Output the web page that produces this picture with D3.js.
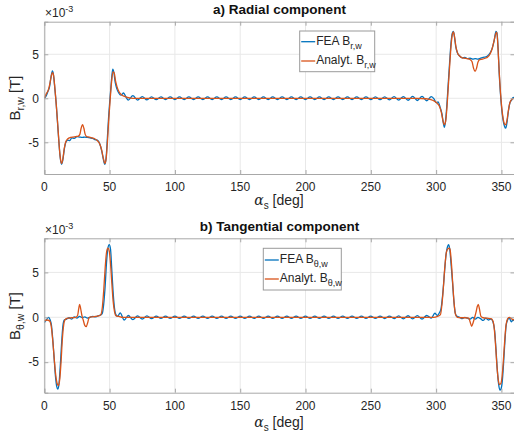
<!DOCTYPE html>
<html>
<head>
<meta charset="utf-8">
<script src="https://cdn.jsdelivr.net/npm/d3@7"></script>
<style>
  html, body { margin: 0; padding: 0; background: #fff; }
  svg { display: block; font-family: "Liberation Sans", Arial, sans-serif; }
</style>
</head>
<body>
<div id="chart"></div>
<script>
// ---- data (angle in deg, field in 1e-3 T) ----
const xTicks = [0, 50, 100, 150, 200, 250, 300, 350];
const yTicks = [-5, 0, 5];

const radialFEA = [
  [0, 0.0], [1.5, 0.3], [2.8, 0.8], [4.0, 1.3], [5.0, 2.3], [6.2, 3.1], [7.0, 2.7], [8.0, 1.2],
  [9.0, -0.4], [10.0, -2.5], [11.0, -4.6], [12.0, -6.5], [13.2, -7.5], [14.2, -7.0], [15.3, -5.8],
  [16.5, -5.0], [18.0, -4.75], [19.5, -4.8], [21.0, -4.5], [23.0, -4.55], [25.0, -4.35], [27.0, -4.4],
  [29.0, -4.45], [31.0, -4.4], [33.0, -4.45], [35.0, -4.5], [37.0, -4.55], [39.0, -4.7], [41.0, -4.8],
  [42.5, -5.2], [44.0, -6.0], [45.3, -7.0], [46.4, -7.5], [47.3, -6.8], [48.3, -4.5], [49.3, -2.0],
  [50.3, 0.0], [51.3, 1.8], [52.4, 3.3], [53.3, 2.9], [54.3, 1.8], [55.5, 1.1], [57.0, 0.6],
  [58.7, 0.35], [60.7, 0.6], [62.5, 0.15], [64.3, -0.2], [67.8, 0.3], [71.4, -0.2], [75.0, 0.2],
  [78.6, -0.18], [82.1, 0.16], [85.7, -0.16], [89.3, 0.15], [92.8, -0.15], [96.4, 0.15], [100.0, -0.15],
  [103.5, 0.15], [107.1, -0.15], [110.7, 0.15], [114.3, -0.15], [117.8, 0.15], [121.4, -0.15],
  [125.0, 0.15], [128.5, -0.15], [132.1, 0.15], [135.7, -0.15], [139.2, 0.15], [142.8, -0.15],
  [146.4, 0.15], [150.0, -0.15], [153.5, 0.15], [157.1, -0.15], [160.7, 0.15], [164.2, -0.15],
  [167.8, 0.15], [171.4, -0.15], [174.9, 0.15], [178.5, -0.15], [182.1, 0.15], [185.7, -0.15],
  [189.2, 0.15], [192.8, -0.15], [196.4, 0.15], [199.9, -0.15], [203.5, 0.15], [207.1, -0.15],
  [210.6, 0.15], [214.2, -0.15], [217.8, 0.15], [221.4, -0.15], [224.9, 0.15], [228.5, -0.15],
  [232.1, 0.15], [235.6, -0.15], [239.2, 0.15], [242.8, -0.15], [246.3, 0.15], [249.9, -0.15],
  [253.5, 0.16], [257.1, -0.16], [260.6, 0.17], [264.2, -0.18], [267.8, 0.18], [271.3, -0.2],
  [274.9, 0.2], [278.5, -0.22], [282.0, 0.22], [285.6, -0.25], [289.2, 0.22], [292.8, -0.28],
  [296.3, 0.2], [298.5, -0.1], [300.0, -0.5], [301.5, -0.4], [303.0, -1.0], [304.5, -1.8],
  [305.5, -2.8], [306.3, -3.3], [307.2, -2.6], [308.2, -0.8], [309.2, 1.5], [310.3, 4.0],
  [311.4, 6.3], [312.4, 7.4], [313.2, 7.6], [314.0, 7.0], [315.0, 5.9], [316.2, 5.2], [318.0, 4.8],
  [320.0, 4.6], [322.0, 4.65], [324.0, 4.5], [326.0, 4.55], [328.0, 4.45], [330.0, 4.5], [332.0, 4.45],
  [334.0, 4.55], [336.0, 4.65], [338.0, 4.7], [340.0, 4.9], [341.5, 5.2], [343.0, 5.7], [344.5, 6.6],
  [345.8, 7.6], [346.6, 7.4], [347.5, 5.5], [348.3, 2.8], [349.2, 0.6], [350.2, -1.2], [351.3, -2.5],
  [352.4, -3.2], [353.3, -3.4], [354.3, -2.7], [355.3, -1.5], [356.5, -0.5], [357.8, -0.2],
  [359.0, 0.1], [360, 0.0]
];

const radialAnalyt = [
  [0, 0.0], [1.5, 0.5], [3.0, 0.9], [4.2, 1.6], [5.3, 2.5], [6.3, 2.9], [7.2, 2.5], [8.2, 1.0],
  [9.2, -0.8], [10.3, -3.0], [11.3, -5.2], [12.3, -6.8], [13.3, -7.4], [14.3, -6.8], [15.3, -5.7],
  [16.5, -4.9], [18.0, -4.6], [20.0, -4.45], [22.0, -4.4], [24.0, -4.35], [26.0, -4.3], [27.2, -4.1],
  [28.2, -3.4], [29.3, -3.0], [30.3, -3.4], [31.3, -4.1], [32.5, -4.35], [34.5, -4.4], [36.5, -4.5],
  [38.5, -4.6], [40.5, -4.8], [42.2, -5.1], [43.8, -5.8], [45.2, -6.8], [46.4, -7.4], [47.4, -6.8],
  [48.4, -4.8], [49.4, -2.3], [50.4, -0.2], [51.4, 1.7], [52.6, 3.0], [53.5, 2.9], [54.5, 2.0],
  [55.7, 1.3], [57.0, 0.8], [59.0, 0.4], [61.0, 0.25], [63.5, 0.1], [66.0, 0.03], [70.0, 0.0],
  [150.0, 0.0], [230.0, 0.0], [285.0, 0.0], [292.0, -0.05], [296.0, -0.15], [299.0, -0.35],
  [301.0, -0.6], [302.5, -0.9], [304.0, -1.6], [305.3, -2.6], [306.3, -3.0], [307.3, -2.6],
  [308.3, -1.0], [309.3, 1.3], [310.4, 3.8], [311.5, 6.1], [312.5, 7.3], [313.3, 7.55], [314.2, 6.9],
  [315.2, 5.8], [316.5, 5.1], [318.0, 4.8], [320.0, 4.6], [322.0, 4.55], [324.0, 4.5], [326.0, 4.4],
  [327.5, 4.15], [328.7, 3.4], [329.8, 3.05], [330.9, 3.4], [332.0, 4.1], [333.3, 4.4], [335.5, 4.45],
  [337.5, 4.55], [339.5, 4.7], [341.2, 5.0], [342.8, 5.6], [344.3, 6.5], [345.6, 7.3], [346.5, 7.5],
  [347.4, 5.6], [348.3, 3.0], [349.2, 0.8], [350.2, -1.0], [351.3, -2.3], [352.3, -2.9], [353.2, -3.0],
  [354.2, -2.5], [355.3, -1.4], [356.5, -0.5], [358.0, -0.1], [360, 0.0]
];

const tangFEA = [
  [0, -0.6], [1.5, -0.3], [3.3, 0.0], [4.5, -0.3], [5.5, -0.9], [6.5, -2.5], [7.5, -4.5], [8.5, -6.5],
  [9.5, -7.7], [10.3, -8.0], [11.2, -7.5], [12.2, -5.5], [13.2, -3.0], [14.2, -1.0], [15.3, -0.3],
  [17.0, -0.2], [19.0, -0.05], [21.0, -0.2], [23.0, 0.05], [25.0, -0.1], [27.0, 0.1], [29.0, -0.05],
  [31.0, 0.05], [33.0, -0.1], [35.0, 0.0], [37.0, 0.1], [39.0, 0.05], [41.0, 0.15], [43.0, 0.25],
  [44.3, 0.4], [45.5, 1.5], [46.6, 3.5], [47.6, 6.0], [48.6, 7.6], [49.7, 8.1], [50.7, 7.6],
  [51.6, 5.5], [52.6, 3.0], [53.6, 1.2], [54.8, 0.3], [56.2, 0.1], [58.1, 0.5], [61.2, -0.3],
  [64.3, 0.2], [67.8, -0.25], [71.4, 0.15], [75.0, -0.2], [78.6, 0.15], [82.1, -0.15], [85.7, 0.13],
  [89.3, -0.13], [92.8, 0.12], [96.4, -0.12], [100.0, 0.12], [103.5, -0.12], [107.1, 0.12],
  [110.7, -0.12], [114.3, 0.12], [117.8, -0.12], [121.4, 0.12], [125.0, -0.12], [128.5, 0.12],
  [132.1, -0.12], [135.7, 0.12], [139.2, -0.12], [142.8, 0.12], [146.4, -0.12], [150.0, 0.12],
  [153.5, -0.12], [157.1, 0.12], [160.7, -0.12], [164.2, 0.12], [167.8, -0.12], [171.4, 0.12],
  [174.9, -0.12], [178.5, 0.12], [182.1, -0.12], [185.7, 0.12], [189.2, -0.12], [192.8, 0.12],
  [196.4, -0.12], [199.9, 0.12], [203.5, -0.12], [207.1, 0.12], [210.6, -0.12], [214.2, 0.12],
  [217.8, -0.12], [221.4, 0.12], [224.9, -0.12], [228.5, 0.12], [232.1, -0.12], [235.6, 0.12],
  [239.2, -0.12], [242.8, 0.12], [246.3, -0.12], [249.9, 0.12], [253.5, -0.13], [257.1, 0.13],
  [260.6, -0.14], [264.2, 0.14], [267.8, -0.15], [271.3, 0.15], [274.9, -0.17], [278.5, 0.17],
  [282.0, -0.18], [285.6, 0.18], [289.2, -0.2], [292.8, 0.2], [296.3, -0.1], [299.0, 0.45],
  [301.0, 0.2], [302.5, 0.5], [303.8, 1.0], [305.0, 2.5], [306.4, 5.0], [307.6, 7.0], [308.6, 7.8],
  [309.5, 8.1], [310.4, 7.6], [311.4, 6.0], [312.6, 3.8], [313.6, 1.8], [314.6, 0.5], [316.0, 0.1],
  [318.0, 0.0], [320.0, -0.15], [322.0, 0.0], [324.0, -0.1], [326.0, -0.2], [328.0, 0.0],
  [330.0, -0.2], [332.0, 0.0], [334.0, -0.15], [336.0, -0.35], [338.0, -0.1], [340.0, -0.3],
  [342.0, -0.2], [343.5, -0.5], [344.8, -1.5], [345.8, -3.5], [346.8, -5.8], [347.8, -7.4],
  [348.8, -8.1], [349.6, -8.0], [350.6, -7.2], [351.6, -5.2], [352.6, -2.8], [353.6, -0.9],
  [354.7, -0.3], [356.0, -0.05], [357.5, -0.5], [359.0, -0.3], [360, -0.4]
];

const tangAnalyt = [
  [0, -0.4], [2.0, -0.3], [4.0, -0.4], [5.5, -1.2], [6.6, -2.8], [7.7, -4.8], [8.8, -6.5], [9.9, -7.4],
  [10.9, -7.6], [11.9, -6.8], [12.9, -4.8], [13.8, -2.5], [14.8, -0.9], [16.0, -0.25], [18.0, -0.1],
  [21.0, -0.05], [24.0, 0.0], [25.5, 0.2], [26.3, 0.9], [27.0, 1.45], [27.8, 1.0], [28.8, 0.2],
  [29.8, -0.3], [31.0, -0.9], [32.1, -1.05], [33.2, -0.6], [34.4, 0.0], [36.5, 0.05], [39.0, 0.1],
  [41.5, 0.15], [43.3, 0.3], [44.5, 1.2], [45.5, 3.0], [46.6, 5.5], [47.7, 7.3], [48.7, 7.7],
  [49.7, 7.4], [50.7, 6.0], [51.7, 3.8], [52.7, 1.8], [53.8, 0.6], [55.0, 0.15], [57.0, 0.1],
  [60.0, 0.0], [150.0, 0.0], [230.0, 0.0], [298.0, 0.0], [301.0, 0.1], [303.3, 0.3], [304.5, 1.5],
  [305.5, 3.2], [306.6, 5.5], [307.8, 7.2], [308.9, 7.6], [309.9, 7.7], [310.6, 7.6], [311.6, 6.2],
  [312.7, 3.8], [313.8, 1.5], [314.9, 0.3], [316.3, 0.0], [319.0, -0.05], [322.0, -0.05],
  [325.0, -0.1], [326.0, -0.5], [327.2, -1.0], [328.3, -0.6], [329.5, 0.0], [330.6, 0.6],
  [331.5, 1.2], [332.3, 1.45], [333.2, 0.9], [334.3, 0.1], [336.0, -0.05], [339.0, -0.1],
  [342.0, -0.15], [343.5, -0.4], [344.6, -1.4], [345.6, -3.3], [346.6, -5.5], [347.6, -7.0],
  [348.5, -7.5], [349.5, -7.4], [350.5, -6.6], [351.5, -4.8], [352.5, -2.6], [353.5, -0.9],
  [354.6, -0.2], [356.0, 0.0], [358.0, -0.2], [360, -0.3]
];

// ---- layout ----
const W = 514, H = 439;
const blue = '#0072BD', orange = '#D95319';
const textCol = '#262626', axisCol = '#a8a8a8', gridCol = '#e8e8e8';

const svg = d3.select('#chart').append('svg')
  .attr('width', W).attr('height', H);

const x = d3.scaleLinear().domain([0, 360]).range([44.3, 514.5]);

const panels = [
  {
    id: 'a', top: 21.7, bottom: 174, yDomain: [-8.6, 8.7],
    title: 'a) Radial component', titleY: 14,
    sub: 'r,w', series: [radialFEA, radialAnalyt],
    tickY: 191, xlabY: 205, expY: 16.5, ylabY: 98,
    legend: { x: 299.7, y: 31, w: 75, h: 40.7, rows: [41.7, 61] }
  },
  {
    id: 'b', top: 238.3, bottom: 392.7, yDomain: [-8.4, 8.8],
    title: 'b) Tangential component', titleY: 231,
    sub: 'θ,w', series: [tangFEA, tangAnalyt],
    tickY: 410, xlabY: 427, expY: 234, ylabY: 316,
    legend: { x: 263.3, y: 248.3, w: 78, h: 41.7, rows: [260, 279] }
  }
];

panels.forEach(p => drawPanel(p));

function drawPanel(p) {
  const y = d3.scaleLinear().domain(p.yDomain).range([p.bottom, p.top]);
  const [x0, x1] = x.range();
  const g = svg.append('g');

  // clip
  svg.append('clipPath').attr('id', 'clip-' + p.id)
    .append('rect').attr('x', x0).attr('y', p.top)
    .attr('width', x1 - x0).attr('height', p.bottom - p.top);

  // grid
  g.selectAll('.gx').data(xTicks).enter().append('line')
    .attr('x1', d => x(d)).attr('x2', d => x(d))
    .attr('y1', p.top).attr('y2', p.bottom)
    .attr('stroke', gridCol).attr('stroke-width', 1);
  g.selectAll('.gy').data(yTicks).enter().append('line')
    .attr('x1', x0).attr('x2', x1)
    .attr('y1', d => y(d)).attr('y2', d => y(d))
    .attr('stroke', gridCol).attr('stroke-width', 1);

  // lines
  const line = d3.line()
    .x(d => x(d[0])).y(d => y(d[1]))
    .curve(d3.curveMonotoneX);
  const cols = [blue, orange];
  p.series.forEach((s, i) => {
    g.append('path').datum(s)
      .attr('d', line)
      .attr('fill', 'none')
      .attr('stroke', cols[i])
      .attr('stroke-width', 1.3)
      .attr('stroke-linejoin', 'round')
      .attr('clip-path', `url(#clip-${p.id})`);
  });

  // axes box with inward ticks on all sides
  const axB = d3.axisBottom(x).tickValues(xTicks).tickSize(-4).tickFormat('');
  const axT = d3.axisTop(x).tickValues(xTicks).tickSize(-4).tickFormat('');
  const axL = d3.axisLeft(y).tickValues(yTicks).tickSize(-4).tickFormat('');
  const axR = d3.axisRight(y).tickValues(yTicks).tickSize(-4).tickFormat('');
  [[axB, `translate(0,${p.bottom})`], [axT, `translate(0,${p.top})`],
   [axL, `translate(${x0},0)`], [axR, `translate(${x1},0)`]].forEach(([ax, tr]) => {
    const a = g.append('g').attr('transform', tr).call(ax);
    a.select('.domain').attr('stroke', axisCol).attr('stroke-width', 1);
    a.selectAll('.tick line').attr('stroke', axisCol);
  });

  // tick labels
  g.selectAll('.xl').data(xTicks).enter().append('text')
    .attr('x', d => x(d)).attr('y', p.tickY)
    .attr('text-anchor', 'middle').attr('font-size', 12).attr('fill', textCol)
    .text(d => d);
  g.selectAll('.yl').data(yTicks).enter().append('text')
    .attr('x', 39).attr('y', d => y(d)).attr('dy', '0.36em')
    .attr('text-anchor', 'end').attr('font-size', 12).attr('fill', textCol)
    .text(d => d);

  // exponent
  const ex = g.append('text').attr('x', 45).attr('y', p.expY)
    .attr('font-size', 12).attr('fill', textCol);
  ex.append('tspan').text('×10');
  ex.append('tspan').attr('dy', -5).attr('font-size', 9).text('-3');

  // title
  g.append('text').attr('x', 279.5).attr('y', p.titleY)
    .attr('text-anchor', 'middle').attr('font-size', 13.5).attr('font-weight', 'bold')
    .attr('fill', '#111').text(p.title);

  // x label
  const xl = g.append('text').attr('x', 279).attr('y', p.xlabY)
    .attr('text-anchor', 'middle').attr('font-size', 14).attr('fill', textCol);
  xl.append('tspan').attr('font-family', '"DejaVu Serif", serif').attr('font-style', 'italic').text('α');
  xl.append('tspan').attr('dy', 4).attr('font-size', 10).text('s');
  xl.append('tspan').attr('dy', -4).text(' [deg]');

  // y label
  const yl = g.append('text')
    .attr('transform', `translate(20,${p.ylabY}) rotate(-90)`)
    .attr('text-anchor', 'middle').attr('font-size', 15).attr('fill', textCol);
  yl.append('tspan').text('B');
  yl.append('tspan').attr('dy', 4).attr('font-size', 10.5).text(p.sub);
  yl.append('tspan').attr('dy', -4).text(' [T]');

  // legend
  const L = p.legend;
  const lg = g.append('g');
  lg.append('rect').attr('x', L.x).attr('y', L.y).attr('width', L.w).attr('height', L.h)
    .attr('fill', '#fff').attr('stroke', '#9a9a9a').attr('stroke-width', 1);
  const names = ['FEA B', 'Analyt. B'];
  L.rows.forEach((ry, i) => {
    lg.append('line').attr('x1', L.x + 1.5).attr('x2', L.x + 15.5)
      .attr('y1', ry).attr('y2', ry).attr('stroke', cols[i]).attr('stroke-width', 1.3);
    const t = lg.append('text').attr('x', L.x + 16.5).attr('y', ry + 3)
      .attr('font-size', 12).attr('fill', textCol);
    t.append('tspan').text(names[i]);
    t.append('tspan').attr('dy', 4).attr('font-size', 9).text(p.sub);
  });
}
</script>
</body>
</html>
